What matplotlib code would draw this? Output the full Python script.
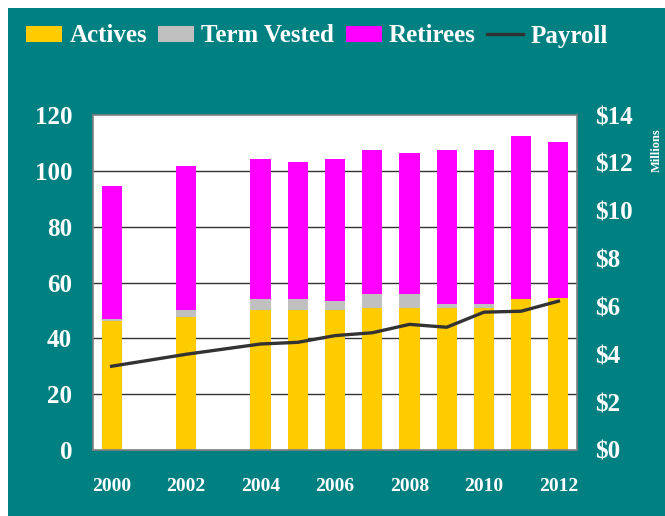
import matplotlib
matplotlib.use("Agg")
import matplotlib.pyplot as plt
from matplotlib.patches import Rectangle
import numpy as np

years = [2000, 2002, 2004, 2005, 2006, 2007, 2008, 2009, 2010, 2011, 2012]
actives = [46.2, 47.8, 50.0, 50.0, 50.0, 50.7, 50.7, 50.7, 50.7, 54.0, 54.3]
term_vested = [0.9, 2.2, 4.0, 4.0, 3.2, 5.1, 5.1, 1.5, 1.5, 0.0, 0.0]
retirees = [47.5, 51.8, 50.3, 49.2, 51.1, 51.7, 50.7, 55.3, 55.3, 58.6, 56.1]
payroll = [3.50, 4.00, 4.43, 4.50, 4.78, 4.90, 5.25, 5.13, 5.76, 5.80, 6.22]
x_ticks = [2000, 2002, 2004, 2006, 2008, 2010, 2012]
left_ticks = [0, 20, 40, 60, 80, 100, 120]
right_ticks = [0, 2, 4, 6, 8, 10, 12, 14]

TEAL = "#008080"
FONT = "Liberation Serif"

fig = plt.figure(figsize=(6.65, 5.16), dpi=100)
fig.patch.set_facecolor("white")
fig.add_artist(Rectangle((8 / 665, 0), 1, (516 - 8) / 516, transform=fig.transFigure,
                         facecolor=TEAL, edgecolor="none", zorder=-10))

ax = fig.add_axes([93 / 665, (516 - 450) / 516, (577 - 93) / 665, (450 - 115) / 516])
ax.set_facecolor("white")
ax.set_zorder(1)

yrs = np.array(years)
a = np.array(actives)
t = np.array(term_vested)
r = np.array(retirees)
w = 0.54
ax.bar(yrs, a, w, color="#FFCC00", label="Actives", zorder=2)
ax.bar(yrs, t, w, bottom=a, color="#C0C0C0", label="Term Vested", zorder=2)
ax.bar(yrs, r, w, bottom=a + t, color="#FF00FF", label="Retirees", zorder=2)

ax.set_xlim(1999.5, 2012.5)
ax.set_ylim(0, 120)
ax.set_yticks(left_ticks)
ax.set_xticks(x_ticks)
for gy in left_ticks[1:-1]:
    ax.axhline(gy, color="#333333", lw=1.0, zorder=1)
ax.tick_params(length=0, colors="white", labelsize=18, pad=15)
ax.tick_params(axis="x", labelsize=14, pad=20)
for lab in ax.get_xticklabels() + ax.get_yticklabels():
    lab.set_fontfamily(FONT)
    lab.set_fontweight("bold")
for s in ax.spines.values():
    s.set_color("#808080")
    s.set_linewidth(1.2)

ax2 = ax.twinx()
ax2.set_ylim(0, 14)
ax2.set_yticks(right_ticks)
ax2.set_yticklabels([f"${v}" for v in right_ticks])
ax2.plot(yrs, payroll, color="#333333", lw=2.4, label="Payroll", zorder=3)
ax2.tick_params(length=0, colors="white", labelsize=18, pad=13)
for lab in ax2.get_yticklabels():
    lab.set_fontfamily(FONT)
    lab.set_fontweight("bold")
for s in ax2.spines.values():
    s.set_visible(False)

fig.text(657 / 665, 1 - 150 / 516, "Millions", rotation=90, ha="center", va="center",
         color="white", fontsize=9, fontweight="bold", fontfamily=FONT)

h1, l1 = ax.get_legend_handles_labels()
h2, l2 = ax2.get_legend_handles_labels()
leg = fig.legend(h1 + h2, l1 + l2, loc="center left", bbox_to_anchor=(26 / 665, 1 - 36 / 516),
                 ncol=4, frameon=False, handlelength=1.45, handleheight=0.6,
                 handletextpad=0.28, columnspacing=0.45, borderaxespad=0, borderpad=0,
                 prop={"family": FONT, "weight": "bold", "size": 18})
for txt in leg.get_texts():
    txt.set_color("white")

fig.savefig("out.png", dpi=100, facecolor=fig.get_facecolor())
